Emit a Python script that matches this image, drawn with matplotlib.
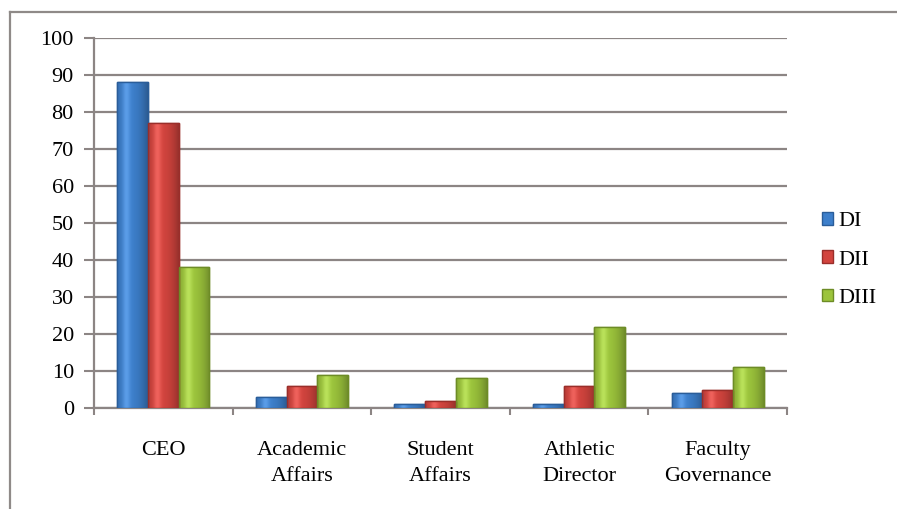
import matplotlib
matplotlib.use("Agg")
import matplotlib.pyplot as plt
import numpy as np
from matplotlib.lines import Line2D
from matplotlib.patches import Patch

categories = ["CEO", "Academic\nAffairs", "Student\nAffairs", "Athletic\nDirector", "Faculty\nGovernance"]
series_names = ["DI", "DII", "DIII"]
di_values = [88, 3, 1, 1, 4]
dii_values = [77, 6, 2, 6, 5]
diii_values = [38, 9, 8, 22, 11]
y_ticks = [0, 10, 20, 30, 40, 50, 60, 70, 80, 90, 100]

face_colors = ["#3d7fcb", "#d2443e", "#9cc43c"]
edge_colors = ["#2a5d99", "#9a2e2a", "#6d8c26"]
grid_color = "#8c8584"
FS = 16

plt.rcParams["font.family"] = ["Liberation Serif", "DejaVu Serif"]

fig = plt.figure(figsize=(8.97, 5.09), dpi=100)
ax = fig.add_axes([94 / 897, 1 - 408 / 509, (787 - 94) / 897, (408 - 38) / 509])

x = np.arange(len(categories))
bar_w = 0.222
all_values = [di_values, dii_values, diii_values]
for i, (vals, fc, ec, name) in enumerate(zip(all_values, face_colors, edge_colors, series_names)):
    offs = (i - 1) * bar_w
    bars = ax.bar(x + offs, vals, width=bar_w, color=fc, edgecolor=ec, linewidth=1.0,
                  label=name, zorder=3)
    # soft horizontal sheen across each bar
    rgb = np.array(matplotlib.colors.to_rgb(fc))
    t = np.linspace(0, 1, 64)
    shade = 1 - 0.28 * ((t - 0.4) / 0.6) ** 2
    glow = 0.12 * np.exp(-((t - 0.3) ** 2) / 0.015)
    img = np.clip(rgb[None, :] * shade[:, None] + glow[:, None], 0, 1)
    for b in bars:
        h = b.get_height()
        if h <= 0:
            continue
        im = ax.imshow(img[None, :, :], extent=[b.get_x(), b.get_x() + b.get_width(), 0, h],
                       aspect="auto", zorder=3.5, interpolation="bilinear")
        im.set_clip_path(b)
        ax.add_patch(plt.Rectangle((b.get_x(), 0), b.get_width(), h, fill=False,
                                   edgecolor=ec, linewidth=1.0, zorder=4))

ax.set_xlim(-0.5, len(categories) - 0.5)
ax.set_ylim(0, 100)
ax.set_yticks(y_ticks)
ax.set_yticklabels([str(t) for t in y_ticks])
ax.yaxis.grid(True, color=grid_color, linewidth=1.6, zorder=1)
ax.set_axisbelow(True)

ax.set_xticks(x)
ax.set_xticklabels(categories, fontsize=FS, linespacing=1.5)
ax.set_xticks(np.arange(-0.5, len(categories)), minor=True)
ax.tick_params(axis="x", which="major", length=0, pad=24)
ax.tick_params(axis="x", which="minor", length=5, width=1.5, color=grid_color, direction="out")
ax.tick_params(axis="y", length=7.5, width=1.5, color=grid_color, labelsize=FS, pad=7)

for s in ["top", "right"]:
    ax.spines[s].set_visible(False)
for s in ["left", "bottom"]:
    ax.spines[s].set_color(grid_color)
    ax.spines[s].set_linewidth(1.6)

handles = [Patch(facecolor=fc, edgecolor=ec, label=n) for fc, ec, n in zip(face_colors, edge_colors, series_names)]
fig.legend(handles=handles, loc="center left", bbox_to_anchor=(813 / 897, 1 - 260 / 509),
           frameon=False, fontsize=FS, handlelength=0.5, handleheight=0.5,
           handletextpad=0.25, labelspacing=0.85, borderaxespad=0)

# outer frame of the chart area
fig.add_artist(Line2D([10 / 897, 10 / 897], [0, 1 - 12 / 509], transform=fig.transFigure,
                      color="#8f8a88", linewidth=1.6))
fig.add_artist(Line2D([10 / 897, 1], [1 - 12 / 509, 1 - 12 / 509], transform=fig.transFigure,
                      color="#8f8a88", linewidth=1.6))

fig.savefig("out.png", dpi=100)
